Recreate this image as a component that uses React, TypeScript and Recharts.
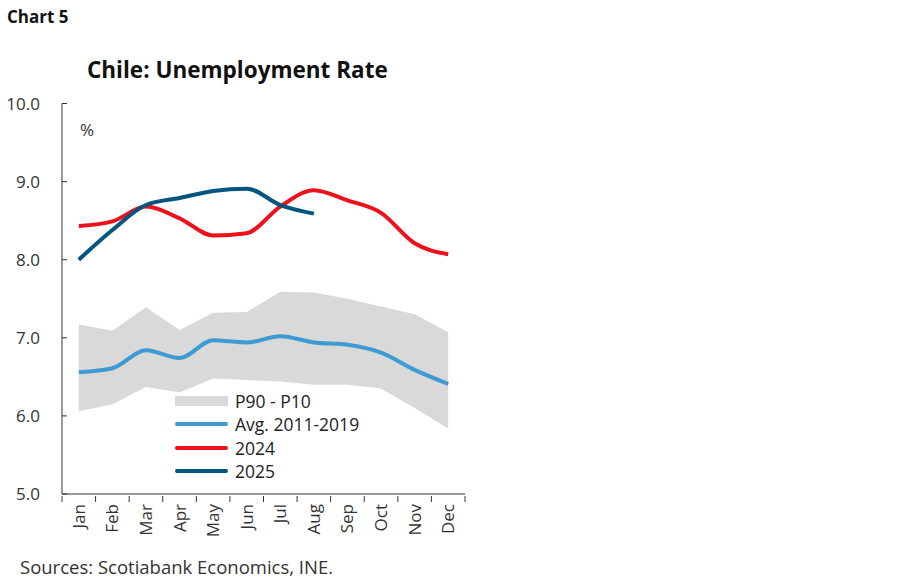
import { ComposedChart, Area, Line, XAxis, YAxis } from 'recharts'

const months = ['Jan', 'Feb', 'Mar', 'Apr', 'May', 'Jun', 'Jul', 'Aug', 'Sep', 'Oct', 'Nov', 'Dec']
const p90 = [7.17, 7.09, 7.39, 7.1, 7.32, 7.33, 7.59, 7.58, 7.5, 7.4, 7.3, 7.07]
const p10 = [6.06, 6.15, 6.37, 6.3, 6.48, 6.46, 6.44, 6.4, 6.4, 6.35, 6.1, 5.84]
const avg = [6.56, 6.61, 6.84, 6.74, 6.97, 6.94, 7.02, 6.94, 6.91, 6.81, 6.59, 6.41]
const y2024 = [8.43, 8.49, 8.68, 8.53, 8.31, 8.34, 8.68, 8.89, 8.76, 8.6, 8.21, 8.07]
const y2025 = [8.0, 8.38, 8.7, 8.79, 8.88, 8.91, 8.7, 8.59]
const yTicks = [5, 6, 7, 8, 9, 10]

const FONT = '"Open Sans", "Noto Sans", sans-serif'
const GREY = '#d9d9d9'
const LIGHT_BLUE = '#3d9bd3'
const RED = '#ec111a'
const DARK_BLUE = '#00567f'

// plot width / number of months, used for tick marks on band edges
const HALF_BAND = 403 / months.length / 2

const data = months.map((m, i) => ({
    month: m,
    band: [p10[i], p90[i]],
    avg: avg[i],
    y2024: y2024[i],
    y2025: i < y2025.length ? y2025[i] : null
}))

const legendItems = [
    { label: 'P90 - P10', color: GREY, box: true },
    { label: 'Avg. 2011-2019', color: LIGHT_BLUE, box: false },
    { label: '2024', color: RED, box: false },
    { label: '2025', color: DARK_BLUE, box: false }
]

const LegendBox = () => (
    <div style={{ position: 'absolute', left: 175, top: 389, fontFamily: FONT, fontSize: 17.5, color: '#222' }}>
        {legendItems.map(item => (
            <div key={item.label} style={{ display: 'flex', alignItems: 'center', height: 23.5 }}>
                {item.box ? (
                    <div style={{ width: 53, height: 10, background: item.color }} />
                ) : (
                    <div style={{ width: 53, height: 4, borderRadius: 2, background: item.color }} />
                )}
                <span style={{ marginLeft: 7 }}>{item.label}</span>
            </div>
        ))}
    </div>
)

const YTick = (props: any) => {
    const { y, payload } = props
    return (
        <g>
            <line x1={62} x2={67} y1={y} y2={y} stroke="#333" strokeWidth={1} />
            <text x={40} y={y} dy={6} textAnchor="end" fontFamily={FONT} fontSize={17} fill="#333">
                {payload.value.toFixed(1)}
            </text>
        </g>
    )
}

const XTick = (props: any) => {
    const { x, y, payload, index } = props
    const top = y - 8
    return (
        <g>
            <line x1={x - HALF_BAND} x2={x - HALF_BAND} y1={top} y2={top + 6} stroke="#333" />
            {index === months.length - 1 && (
                <line x1={x + HALF_BAND} x2={x + HALF_BAND} y1={top} y2={top + 6} stroke="#333" />
            )}
            <text
                x={x}
                y={y}
                dy={6}
                transform={`rotate(-90, ${x}, ${y})`}
                textAnchor="end"
                fontFamily={FONT}
                fontSize={17}
                fill="#333"
            >
                {payload.value}
            </text>
        </g>
    )
}

export default function App() {
    return (
        <div style={{ position: 'absolute', left: 0, top: 0, width: 900, height: 579, background: '#fff' }}>
            <div style={{ position: 'absolute', left: 7, top: 5, fontFamily: FONT, fontWeight: 700, fontSize: 17, color: '#111' }}>
                Chart 5
            </div>
            <div style={{ position: 'absolute', left: 87, top: 54, fontFamily: FONT, fontWeight: 700, fontSize: 22.5, color: '#111' }}>
                Chile: Unemployment Rate
            </div>
            <div style={{ position: 'absolute', left: 80, top: 118, fontFamily: FONT, fontSize: 17, color: '#333' }}>%</div>
            <div style={{ position: 'absolute', left: 20, top: 554, fontFamily: FONT, fontSize: 18.5, color: '#333' }}>
                Sources: Scotiabank Economics, INE.
            </div>
            <ComposedChart
                width={900}
                height={579}
                data={data}
                margin={{ top: 103.5, right: 435, bottom: 35, left: 0 }}
            >
                <XAxis
                    dataKey="month"
                    scale="band"
                    interval={0}
                    height={50}
                    tick={<XTick />}
                    tickSize={8}
                    tickLine={false}
                    axisLine={{ stroke: '#333' }}
                />
                <YAxis
                    domain={[5, 10]}
                    ticks={yTicks}
                    width={62}
                    tickLine={false}
                    axisLine={{ stroke: '#333' }}
                    tick={<YTick />}
                />
                <Area
                    type="linear"
                    dataKey="band"
                    fill={GREY}
                    fillOpacity={1}
                    stroke="none"
                    isAnimationActive={false}
                />
                <Line type="monotone" dataKey="avg" stroke={LIGHT_BLUE} strokeWidth={4} dot={false} isAnimationActive={false} />
                <Line type="monotone" dataKey="y2024" stroke={RED} strokeWidth={4} dot={false} isAnimationActive={false} />
                <Line type="monotone" dataKey="y2025" stroke={DARK_BLUE} strokeWidth={4} dot={false} isAnimationActive={false} />
            </ComposedChart>
            <LegendBox />
        </div>
    )
}
